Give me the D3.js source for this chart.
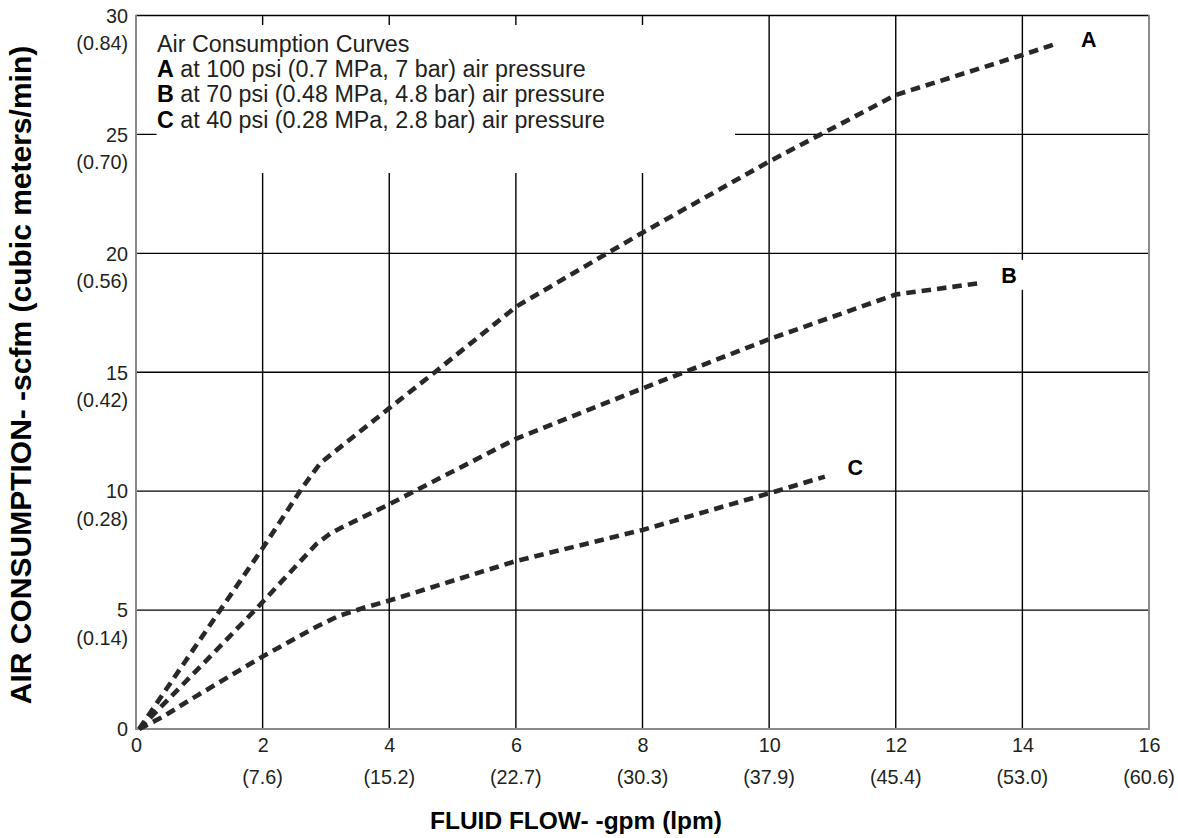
<!DOCTYPE html>
<html>
<head>
<meta charset="utf-8">
<script src="https://cdn.jsdelivr.net/npm/d3@7"></script>
<style>
  html, body { margin: 0; padding: 0; background: #ffffff; }
  svg { display: block; font-family: "Liberation Sans", Arial, Helvetica, sans-serif; }
</style>
</head>
<body>
<svg id="chart" width="1178" height="838"></svg>
<script>
// ---- Data ----
const xTicks = [0, 2, 4, 6, 8, 10, 12, 14, 16];
const xTickLpm = ["", "(7.6)", "(15.2)", "(22.7)", "(30.3)", "(37.9)", "(45.4)", "(53.0)", "(60.6)"];
const yTicks = [0, 5, 10, 15, 20, 25, 30];
const yTickCmm = ["", "(0.14)", "(0.28)", "(0.42)", "(0.56)", "(0.70)", "(0.84)"];

const curveNames = ["A", "B", "C"];
const curveA = [[0.05, 0], [1.33, 5.0], [2, 7.6], [2.64, 10.2], [2.91, 11.17], [3.09, 11.56], [4, 13.49], [4.72, 15.0], [6, 17.75], [8, 20.87], [10, 23.86], [12, 26.66], [14, 28.34], [14.52, 28.8]];
const curveB = [[0.05, 0], [1.17, 3.04], [1.93, 5.14], [2.85, 7.78], [3.06, 8.2], [3.27, 8.5], [4, 9.45], [6, 12.2], [8, 14.32], [10, 16.39], [12, 18.27], [13.31, 18.74]];
const curveC = [[0.05, 0], [0.43, 0.52], [0.85, 1.22], [2, 3.05], [2.85, 4.3], [3.2, 4.75], [3.6, 5.1], [4, 5.4], [6, 7.06], [8, 8.37], [10, 9.91], [10.88, 10.61]];
const curveLabels = [[15.05, 28.69], [13.79, 18.76], [11.36, 10.68]];

const legendTitle = "Air Consumption Curves";
const legendLines = [
  ["A", " at 100 psi (0.7 MPa, 7 bar) air pressure"],
  ["B", " at 70 psi (0.48 MPa, 4.8 bar) air pressure"],
  ["C", " at 40 psi (0.28 MPa, 2.8 bar) air pressure"]
];
const xTitle = "FLUID FLOW- -gpm (lpm)";
const yTitle = "AIR CONSUMPTION- -scfm (cubic meters/min)";

// ---- Layout ----
const svg = d3.select("#chart");
const L = 136, R = 1149, T = 15.5, B = 729;
const x = d3.scaleLinear().domain([0, 16]).range([L, R]);
const y = d3.scaleLinear().domain([0, 30]).range([B, T]);
const ink = "#231f20";
const tickFont = 19.8;

// gridlines
const grid = svg.append("g");
grid.selectAll("line.v").data(xTicks.filter(d => d > 0 && d < 16)).join("line")
  .attr("x1", d => x(d)).attr("x2", d => x(d)).attr("y1", T).attr("y2", B)
  .attr("stroke", "#000").attr("stroke-width", 1.4);
grid.selectAll("line.h").data(yTicks.filter(d => d > 0 && d < 30)).join("line")
  .attr("x1", L).attr("x2", R).attr("y1", d => y(d)).attr("y2", d => y(d))
  .attr("stroke", "#000").attr("stroke-width", 1.4);
// top border black
svg.append("line").attr("x1", L).attr("x2", R).attr("y1", T).attr("y2", T)
  .attr("stroke", "#000").attr("stroke-width", 1.4);

// legend white box
svg.append("rect").attr("x", 156.5).attr("y", 25).attr("width", 735 - 156.5).attr("height", 173 - 25)
  .attr("fill", "#fff");

// axes lines (grey)
const axisCol = "#8a8a8a";
svg.append("line").attr("x1", L).attr("x2", L).attr("y1", T - 0.7).attr("y2", B + 1).attr("stroke", axisCol).attr("stroke-width", 2);
svg.append("line").attr("x1", R).attr("x2", R).attr("y1", T - 0.7).attr("y2", B + 1).attr("stroke", axisCol).attr("stroke-width", 2);
svg.append("line").attr("x1", L - 1).attr("x2", R + 1).attr("y1", B).attr("y2", B).attr("stroke", axisCol).attr("stroke-width", 2);

// x axis tick labels
const xAxisG = svg.append("g").attr("transform", `translate(0,${B})`)
  .call(d3.axisBottom(x).tickValues(xTicks).tickSize(0).tickPadding(0).tickFormat(d3.format("d")));
xAxisG.select(".domain").remove();
xAxisG.selectAll("text").attr("font-size", tickFont).attr("fill", ink)
  .attr("font-family", "'Liberation Sans', Arial, sans-serif")
  .attr("dy", null).attr("y", 23);
svg.append("g").selectAll("text").data(xTicks).join("text")
  .attr("x", d => x(d)).attr("y", 783.5).attr("text-anchor", "middle")
  .attr("font-size", tickFont).attr("fill", ink)
  .text((d, i) => xTickLpm[i]);

// y axis tick labels
const yAxisG = svg.append("g").attr("transform", `translate(${L},0)`)
  .call(d3.axisLeft(y).tickValues(yTicks).tickSize(0).tickPadding(0).tickFormat(d3.format("d")));
yAxisG.select(".domain").remove();
yAxisG.selectAll("text").attr("font-size", tickFont).attr("fill", ink)
  .attr("font-family", "'Liberation Sans', Arial, sans-serif")
  .attr("x", -8).attr("dy", null).attr("y", 6.8);
svg.append("g").selectAll("text").data(yTicks).join("text")
  .attr("x", L - 8).attr("y", d => y(d) + 34.5).attr("text-anchor", "end")
  .attr("font-size", tickFont).attr("fill", ink)
  .text((d, i) => yTickCmm[i]);

// curves
const line = d3.line().x(d => x(d[0])).y(d => y(d[1])).curve(d3.curveLinear);
const series = [curveA, curveB, curveC];
svg.append("g").selectAll("path").data(series).join("path")
  .attr("d", line)
  .attr("fill", "none")
  .attr("stroke", "#2a2727")
  .attr("stroke-width", 4.6)
  .attr("stroke-dasharray", "9.5,6")
  .attr("stroke-linecap", "butt");

// curve labels with white backgrounds
const labG = svg.append("g");
curveNames.forEach((n, i) => {
  const t = labG.append("text")
    .attr("x", x(curveLabels[i][0])).attr("y", y(curveLabels[i][1]))
    .attr("text-anchor", "middle").attr("font-size", 21.5).attr("font-weight", "bold")
    .attr("fill", "#000").text(n);
  const bb = t.node().getBBox();
  labG.insert("rect", "text").attr("x", bb.x - 10).attr("y", bb.y - 4)
    .attr("width", bb.width + 22).attr("height", bb.height + 6).attr("fill", "#fff");
});

// legend text
const leg = svg.append("g").attr("font-size", 23.3).attr("fill", ink);
leg.append("text").attr("x", 157).attr("y", 52).text(legendTitle);
legendLines.forEach((ln, i) => {
  const t = leg.append("text").attr("x", 157).attr("y", 52 + 25.2 * (i + 1));
  t.append("tspan").attr("font-weight", "bold").attr("fill", "#000").text(ln[0]);
  t.append("tspan").text(ln[1]);
});

// axis titles
svg.append("text").attr("x", 576).attr("y", 829)
  .attr("text-anchor", "middle").attr("font-size", 24.5).attr("font-weight", "bold")
  .attr("fill", "#000").text(xTitle);
svg.append("text").attr("transform", "translate(31,375) rotate(-90)")
  .attr("text-anchor", "middle").attr("font-size", 30).attr("font-weight", "bold")
  .attr("fill", "#000").text(yTitle);
</script>
</body>
</html>
